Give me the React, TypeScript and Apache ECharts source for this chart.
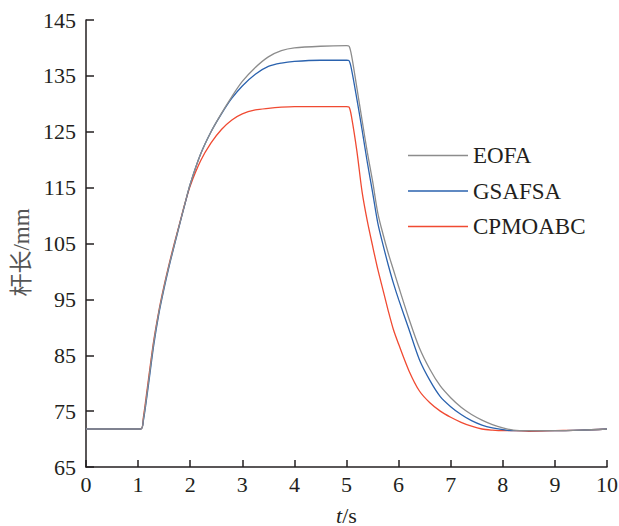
import React, { useEffect, useRef } from 'react';
import * as echarts from 'echarts';

const time = [0, 1.05, 1.1, 1.2, 1.3, 1.4, 1.5, 1.6, 1.7, 1.8, 1.9, 2.0, 2.2, 2.4, 2.6, 2.8, 3.0, 3.25, 3.5, 3.75, 4.0, 4.5, 5.0, 5.05, 5.1, 5.2, 5.3, 5.4, 5.5, 5.6, 5.7, 5.8, 5.9, 6.0, 6.2, 6.4, 6.6, 6.8, 7.0, 7.2, 7.4, 7.6, 7.8, 8.0, 8.2, 8.5, 9.0, 9.5, 10];

const eofa = [71.8, 71.8, 73.5, 80.3, 87.3, 92.8, 97.3, 101.3, 105.0, 108.6, 112.2, 115.6, 121.0, 125.0, 128.3, 131.3, 134.0, 136.5, 138.4, 139.5, 140.0, 140.3, 140.4, 140.3, 138.5, 132.8, 127.0, 121.3, 116.2, 110.5, 106.7, 103.3, 100.3, 97.3, 91.5, 86.3, 82.5, 79.5, 77.4, 75.7, 74.4, 73.4, 72.6, 72.0, 71.6, 71.5, 71.5, 71.6, 71.8];

const gsafsa = [71.8, 71.8, 73.2, 79.8, 86.8, 92.5, 97.0, 101.1, 104.8, 108.5, 112.1, 115.6, 121.0, 125.0, 128.2, 131.0, 133.2, 135.3, 136.7, 137.3, 137.6, 137.8, 137.8, 137.7, 136.0, 130.8, 125.3, 119.5, 114.2, 108.7, 104.8, 101.2, 97.9, 95.0, 89.6, 84.2, 80.5, 77.6, 75.8, 74.4, 73.3, 72.5, 72.0, 71.7, 71.5, 71.5, 71.5, 71.6, 71.8];

const cpmoabc = [71.8, 71.8, 73.8, 80.8, 87.6, 93.0, 97.5, 101.5, 105.2, 108.7, 112.2, 115.3, 119.8, 123.0, 125.4, 127.1, 128.2, 128.9, 129.2, 129.4, 129.5, 129.5, 129.5, 129.4, 127.5, 121.5, 114.2, 109.0, 104.6, 100.4, 96.7, 93.0, 89.6, 87.0, 82.2, 78.6, 76.5, 75.0, 73.9, 73.0, 72.3, 71.8, 71.6, 71.5, 71.5, 71.4, 71.5, 71.6, 71.8];

const seriesNames = ['EOFA', 'GSAFSA', 'CPMOABC'];
const seriesColors = ['#8c8c8c', '#2a62ae', '#f04a32'];

const FONT = 'Liberation Serif';

export default function App() {
  const ref = useRef<HTMLDivElement>(null);
  useEffect(() => {
    document.body.style.margin = '0';
    const chart = echarts.init(ref.current!, undefined, { renderer: 'svg' });
    const zip = (ys: number[]) => time.map((t, i) => [t, ys[i]]);
    const allData = [eofa, gsafsa, cpmoabc];
    chart.setOption({
      animation: false,
      backgroundColor: '#ffffff',
      grid: { left: 86, right: 12, top: 20, bottom: 59, containLabel: false, outerBoundsMode: 'none' },
      legend: {
        orient: 'vertical',
        left: 408,
        top: 144,
        padding: 0,
        icon: 'rect',
        itemWidth: 60,
        itemHeight: 1.5,
        itemGap: 12.5,
        data: seriesNames,
        textStyle: { fontFamily: FONT, fontSize: 23, color: '#231f20', lineHeight: 20 },
      },
      xAxis: {
        type: 'value',
        min: 0,
        max: 10,
        interval: 1,
        name: '{i|t}/s',
        nameLocation: 'middle',
        nameGap: 37,
        nameTextStyle: {
          fontFamily: FONT,
          fontSize: 22,
          color: '#231f20',
          rich: { i: { fontFamily: FONT, fontSize: 22, fontStyle: 'italic', color: '#231f20' } },
        },
        axisLine: { show: true, lineStyle: { color: '#231f20', width: 1.5 } },
        axisTick: { show: true, inside: true, length: 7, lineStyle: { color: '#231f20', width: 1.5 } },
        axisLabel: { fontFamily: FONT, fontSize: 22, color: '#231f20', margin: 6 },
        splitLine: { show: false },
      },
      yAxis: [
        {
          type: 'value',
          min: 65,
          max: 145,
          position: 'left',
          name: '杆长/mm',
          nameLocation: 'middle',
          nameRotate: 90,
          nameGap: 53,
          nameTextStyle: {
            fontFamily: 'Liberation Serif, Noto Sans CJK SC, serif',
            fontSize: 23,
            color: '#555555',
            padding: [0, 18, 0, 0],
          },
          axisLine: { show: true, lineStyle: { color: '#231f20', width: 1.5 } },
          axisTick: { show: false },
          axisLabel: { show: false },
          splitLine: { show: false },
        },
        {
          type: 'value',
          min: 0,
          max: 80,
          interval: 10,
          position: 'left',
          axisLine: { show: false },
          axisTick: { show: true, inside: true, length: 8, lineStyle: { color: '#231f20', width: 1.5 } },
          axisLabel: {
            fontFamily: FONT,
            fontSize: 22,
            color: '#231f20',
            margin: 10,
            formatter: (v: number) => String(v + 65),
          },
          splitLine: { show: false },
        },
      ],
      series: seriesNames.map((name, k) => ({
        name,
        type: 'line',
        yAxisIndex: 0,
        data: zip(allData[k]),
        symbol: 'none',
        smooth: 0.3,
        z: 3 - k,
        lineStyle: { color: seriesColors[k], width: 1.3 },
        itemStyle: { color: seriesColors[k] },
      })),
    });
    return () => chart.dispose();
  }, []);
  return <div ref={ref} style={{ width: 619, height: 526 }} />;
}
